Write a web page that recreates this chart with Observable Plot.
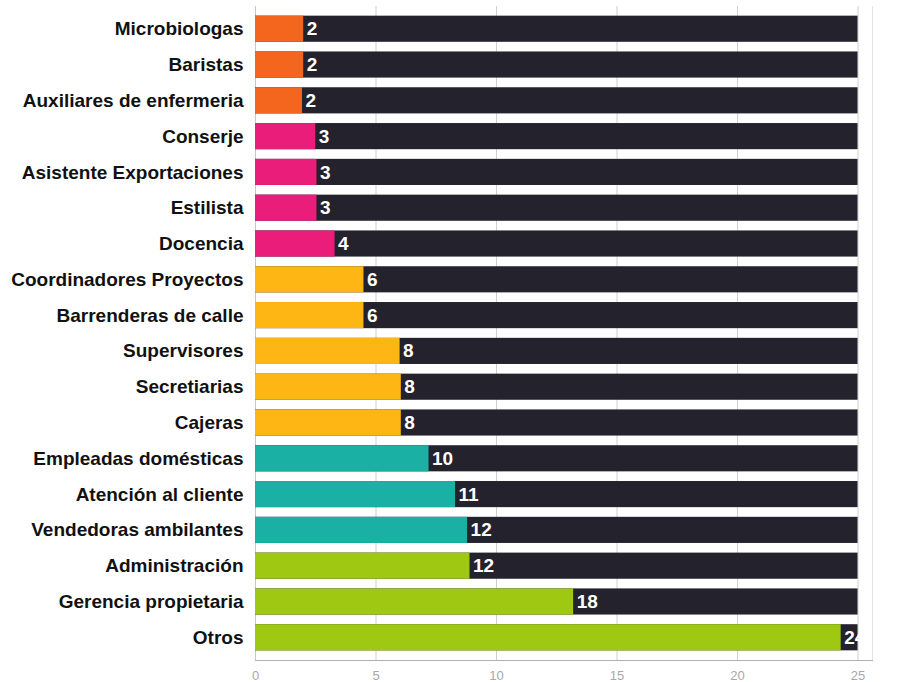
<!DOCTYPE html>
<html><head><meta charset="utf-8">
<script src="https://cdn.jsdelivr.net/npm/d3@7"></script>
<script src="https://cdn.jsdelivr.net/npm/@observablehq/plot@0.6"></script>
<style>html,body{margin:0;padding:0;background:#fff;}</style>
</head><body><div id="chart"></div>
<script>
const categories = ["Microbiologas","Baristas","Auxiliares de enfermeria","Conserje","Asistente Exportaciones","Estilista","Docencia","Coordinadores Proyectos","Barrenderas de calle","Supervisores","Secretiarias","Cajeras","Empleadas domésticas","Atención al cliente","Vendedoras ambilantes","Administración","Gerencia propietaria","Otros"];
const values = [2,2,2,3,3,3,4,6,6,8,8,8,10,11,12,12,18,24];
// bar lengths as drawn in the picture (axis units)
const barLengths = [2.0,2.0,1.95,2.5,2.55,2.55,3.3,4.5,4.5,6.0,6.05,6.05,7.2,8.3,8.8,8.9,13.2,24.3];
const groups = ["g1","g1","g1","g2","g2","g2","g2","g3","g3","g3","g3","g3","g4","g4","g4","g5","g5","g5"];
const groupNames = ["g1","g2","g3","g4","g5"];
const groupColors = ["#f4661e","#ea1e7a","#fdb614","#1ab0a3","#9fc813"];
const trackMax = 25;
const xTicks = [0,5,10,15,20,25];

const data = categories.map((c,i)=>({category:c, value:values[i], length:barLengths[i], group:groups[i]}));

const chart = Plot.plot({
  width: 897, height: 682,
  marginLeft: 255, marginRight: 25, marginTop: 6, marginBottom: 22,
  style: {fontFamily: "'Liberation Sans', Arial, sans-serif", background: "#fff"},
  x: {domain: [0, 25.6], label: null},
  y: {domain: categories, padding: 0.27, round: false, label: null},
  color: {domain: groupNames, range: groupColors},
  marks: [
    Plot.gridX(xTicks, {stroke: "#cfcfcf", strokeOpacity: 1, strokeWidth: 1}),
    Plot.ruleX([0], {stroke: "#b9c9e2"}),
    Plot.frame({anchor: "right", stroke: "#e2e2e2"}),
    Plot.barX(data, {y: "category", x: d => trackMax, fill: "#23222d"}),
    Plot.barX(data, {y: "category", x: "length", fill: "group"}),
    Plot.text(data, {y: "category", x: "length", text: d => String(d.value), textAnchor: "start", dx: 3, fill: "#fff", fontWeight: "bold", fontSize: 19}),
    Plot.axisY({tickSize: 0, tickPadding: 12, fontSize: 19, fontWeight: "bold", fill: "#111"}),
    Plot.axisX({ticks: xTicks, tickSize: 0, tickPadding: 10, fontSize: 13, fill: "#a8a8a8"}),
    Plot.frame({anchor: "bottom", stroke: "#b0b0b0"})
  ]
});
document.getElementById("chart").appendChild(chart);
</script>
</body></html>
